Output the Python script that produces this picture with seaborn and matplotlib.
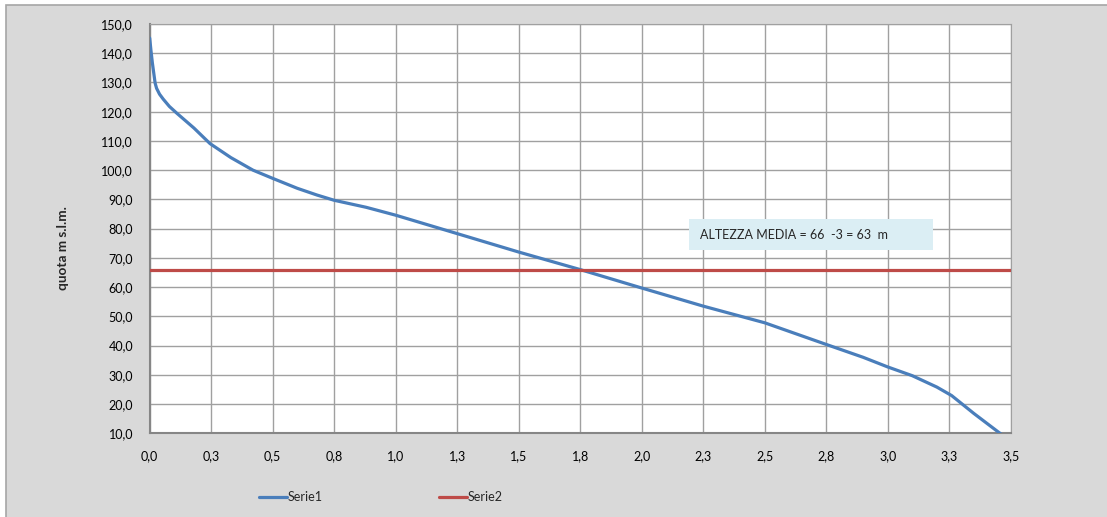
import numpy as np
import pandas as pd
import matplotlib
matplotlib.use("Agg")
import matplotlib.pyplot as plt
from matplotlib.patches import Rectangle
import seaborn as sns

# curva ipsografica
area = [0.0, 0.005, 0.011, 0.022, 0.028, 0.04, 0.055, 0.08, 0.11, 0.18, 0.245, 0.33,
        0.42, 0.5, 0.6, 0.68, 0.75, 0.88, 1.0, 1.25, 1.5, 1.75, 2.0, 2.25, 2.5,
        2.75, 2.9, 3.0, 3.1, 3.2, 3.26, 3.35, 3.48]
quota = [145.2, 141.0, 136.6, 129.8, 128.0, 126.0, 124.3, 121.8, 119.5, 114.4,
         109.1, 104.3, 100.0, 97.2, 93.8, 91.5, 89.7, 87.3, 84.6, 78.3, 72.0,
         66.0, 59.7, 53.5, 47.8, 40.4, 36.0, 32.7, 29.7, 25.8, 22.9, 16.8, 8.5]
area2 = [0.0, 3.5]
quota2 = [66.0, 66.0]

xticks = [0, 0.25, 0.5, 0.75, 1.0, 1.25, 1.5, 1.75, 2.0, 2.25, 2.5, 2.75, 3.0, 3.25, 3.5]
xlabels = ["0,0", "0,3", "0,5", "0,8", "1,0", "1,3", "1,5", "1,8", "2,0", "2,3",
           "2,5", "2,8", "3,0", "3,3", "3,5"]
yticks = list(range(10, 151, 10))
ylabels = [f"{v},0" for v in yticks]

sns.set_style("white")
plt.rcParams['font.family'] = ['Lato', 'DejaVu Sans']

W, H = 1107, 517
fig = plt.figure(figsize=(W / 100, H / 100), dpi=100, facecolor="white")
# sfondo grigio area grafico
fig.patches.append(Rectangle((6 / W, -0.1), 1.2, 0.1 + (H - 5) / H, transform=fig.transFigure,
                             facecolor="#d9d9d9", edgecolor="#a6a6a6", lw=1.2, zorder=-2))

ax = fig.add_axes([149.7 / W, 1 - 433.3 / H, (1010.7 - 149.7) / W, (433.3 - 24) / H])
ax.set_facecolor("white")

df1 = pd.DataFrame({"x": area, "y": quota})
df2 = pd.DataFrame({"x": area2, "y": quota2})
sns.lineplot(data=df1, x="x", y="y", sort=False, color="#4a7ebb", lw=2.3, ax=ax,
             label="Serie1", zorder=3, solid_joinstyle="round", solid_capstyle="round")
sns.lineplot(data=df2, x="x", y="y", sort=False, color="#be4b48", lw=2.3, ax=ax,
             label="Serie2", zorder=3)

ax.set_xlim(0, 3.5)
ax.set_ylim(10, 150)
ax.set_xticks(xticks)
ax.set_xticklabels(xlabels)
ax.set_yticks(yticks)
ax.set_yticklabels(ylabels)
ax.grid(True, color="#a0a0a0", lw=1)
ax.set_axisbelow(True)
ax.tick_params(length=0, labelsize=9, colors="black")
ax.tick_params(axis="x", pad=12)
ax.tick_params(axis="y", pad=12)
ax.set_xlabel("")
ax.set_ylabel("")
for s in ["top", "right"]:
    ax.spines[s].set_color("#a0a0a0")
for s in ["left", "bottom"]:
    ax.spines[s].set_color("#868686")
    ax.spines[s].set_linewidth(1.5)

fig.text(63 / W, 1 - 248 / H, "quota m s.l.m.", rotation=90, ha="center", va="center",
         fontsize=9.8, fontweight="bold")

# riquadro testo
fig.patches.append(Rectangle((689 / W, 1 - 250 / H), 244 / W, 31 / H,
                             transform=fig.transFigure, facecolor="#dbeef4",
                             edgecolor="none", zorder=5))
fig.text(700 / W, 1 - 234.5 / H, "ALTEZZA MEDIA = 66  -3 = 63  m", ha="left",
         va="center", fontsize=9, zorder=6)

ax.get_legend().remove()
h, l = ax.get_legend_handles_labels()
fig.legend(h, l, loc="center left", bbox_to_anchor=(248 / W, 1 - 497 / H), ncol=2,
           frameon=False, fontsize=9, handlelength=2.2, handletextpad=0.1,
           columnspacing=9.3)

fig.savefig("out.png", dpi=100, facecolor=fig.get_facecolor())
